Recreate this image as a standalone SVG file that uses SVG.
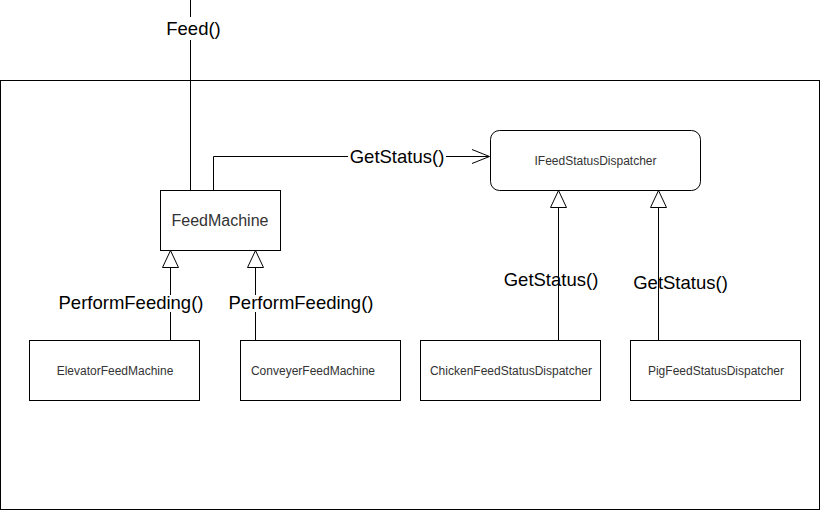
<svg xmlns="http://www.w3.org/2000/svg" width="821" height="511" viewBox="0 0 821 511">
<style>
.box{fill:#fff;stroke:#000;stroke-width:1}
.ln{fill:none;stroke:#000;stroke-width:1}
.tri{fill:#fff;stroke:#000;stroke-width:1}
.sm{font-family:"Liberation Sans",Arial,sans-serif;font-size:12px;fill:#333;text-anchor:middle}
.md{font-family:"Liberation Sans",Arial,sans-serif;font-size:16px;fill:#333;text-anchor:middle}
.lb{font-family:"Liberation Sans",Arial,sans-serif;font-size:18.5px;fill:#000;text-anchor:middle}
.bg{fill:#fff}
</style>
<rect width="821" height="511" fill="#fff"/>
<g id="frame"><rect class="box" x="0.5" y="80.5" width="819" height="429"/></g>
<g id="connectors">
<path class="ln" d="M190.5 0V190"/>
<path class="ln" d="M213.5 190V156.5H489"/>
<path class="ln" d="M472 149.5L489.5 156.5L472 163.5"/>
<path class="ln" d="M170.5 340V267"/>
<path class="tri" d="M170.5 250.5L178.5 267.5H162.5Z"/>
<path class="ln" d="M255.5 340V267"/>
<path class="tri" d="M255.5 250.5L263.5 267.5H247.5Z"/>
<path class="ln" d="M558.5 340V207"/>
<path class="tri" d="M558.5 190.5L566.5 207.5H550.5Z"/>
<path class="ln" d="M658.5 340V207"/>
<path class="tri" d="M658.5 190.5L666.5 207.5H650.5Z"/>
<rect class="bg" x="160" y="17" width="66" height="23"/>
<text class="lb" x="193.5" y="34.5">Feed()</text>
<rect class="bg" x="348" y="145" width="98" height="22"/>
<text class="lb" x="397" y="163">GetStatus()</text>
<rect class="bg" x="55" y="295" width="152" height="17"/>
<text class="lb" x="131" y="308.5">PerformFeeding()</text>
<rect class="bg" x="226" y="295" width="150" height="17"/>
<text class="lb" x="301" y="308.5">PerformFeeding()</text>
<text class="lb" x="551" y="285.5">GetStatus()</text>
<text class="lb" x="680.5" y="288.5">GetStatus()</text>
</g>
<g id="FeedMachine"><rect class="box" x="160.5" y="190.5" width="120" height="60"/><text class="md" x="220" y="226">FeedMachine</text></g>
<g id="IFeedStatusDispatcher"><rect class="box" x="490.5" y="130.5" width="210" height="60" rx="9"/><text class="sm" x="595.5" y="164.5">IFeedStatusDispatcher</text></g>
<g id="ElevatorFeedMachine"><rect class="box" x="29.5" y="340.5" width="170" height="60"/><text class="sm" x="115" y="375">ElevatorFeedMachine</text></g>
<g id="ConveyerFeedMachine"><rect class="box" x="240.5" y="340.5" width="160" height="60"/><text class="sm" x="313" y="375">ConveyerFeedMachine</text></g>
<g id="ChickenFeedStatusDispatcher"><rect class="box" x="420.5" y="340.5" width="180" height="60"/><text class="sm" x="511" y="375">ChickenFeedStatusDispatcher</text></g>
<g id="PigFeedStatusDispatcher"><rect class="box" x="630.5" y="340.5" width="170" height="60"/><text class="sm" x="716" y="375">PigFeedStatusDispatcher</text></g>
</svg>
